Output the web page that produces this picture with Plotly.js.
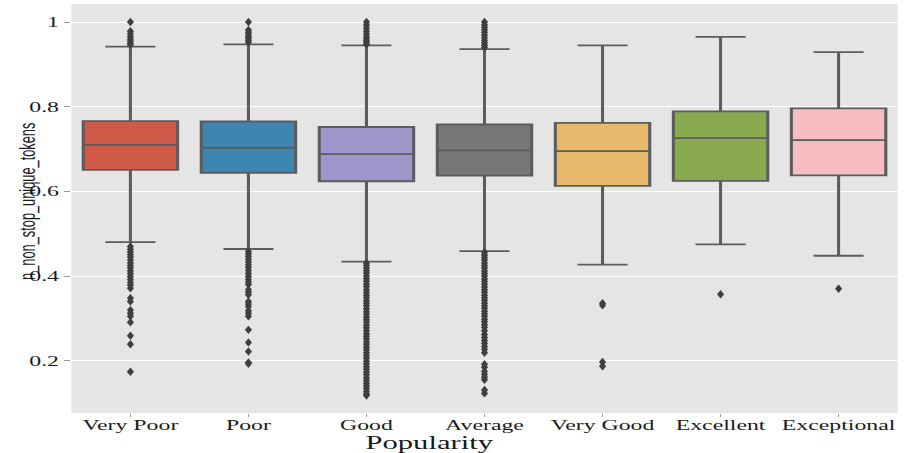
<!DOCTYPE html>
<html>
<head>
<meta charset="utf-8">
<script src="https://cdn.plot.ly/plotly-3.0.1.min.js"></script>
<style>
html,body{margin:0;padding:0;background:#fff;overflow:hidden;width:904px;height:453px;}
/* the reference picture is stretched horizontally; reproduce that stretch */
#chart{width:532px;height:453px;transform:scaleX(1.7);transform-origin:0 0;}
</style>
</head>
<body>
<div id="chart"></div>
<script>
// ---- data ----
const categories = ["Very Poor","Poor","Good","Average","Very Good","Excellent","Exceptional"];
const q1Values      = [0.651, 0.644, 0.624, 0.637, 0.613, 0.625, 0.638];
const medianValues  = [0.710, 0.703, 0.688, 0.697, 0.695, 0.726, 0.721];
const q3Values      = [0.766, 0.765, 0.752, 0.758, 0.762, 0.789, 0.796];
const lowerWhiskers = [0.480, 0.464, 0.434, 0.459, 0.427, 0.475, 0.448];
const upperWhiskers = [0.942, 0.947, 0.945, 0.936, 0.945, 0.965, 0.929];
const boxColors = ["#cf5a48","#3d85b3","#9d96cb","#777777","#e8b96c","#8aaa50","#f5bcc1"];

const outliersVeryPoor = [1.0, 0.978, 0.972, 0.966, 0.960, 0.955, 0.950, 0.946,
  0.470, 0.463, 0.457, 0.451, 0.445, 0.438, 0.431, 0.425, 0.419, 0.412, 0.406, 0.399, 0.392, 0.385, 0.379, 0.371,
  0.348, 0.340, 0.320, 0.312, 0.305, 0.291, 0.259, 0.239, 0.174];
const outliersPoor = [1.0, 0.981, 0.976, 0.971, 0.966, 0.962, 0.957, 0.952,
  0.458, 0.452, 0.446, 0.440, 0.433, 0.427, 0.420, 0.413, 0.406, 0.399, 0.392, 0.386, 0.380,
  0.368, 0.362, 0.356, 0.340, 0.334, 0.328, 0.318, 0.312, 0.305, 0.273, 0.243, 0.222, 0.196, 0.193];
const outliersGood = [1.0, 0.993, 0.985, 0.978, 0.972, 0.966, 0.961, 0.956, 0.951, 0.947,
  0.431, 0.425, 0.419, 0.413, 0.407, 0.400, 0.394, 0.388, 0.381, 0.375, 0.368, 0.362, 0.355, 0.349, 0.342,
  0.336, 0.330, 0.323, 0.316, 0.310, 0.303, 0.297, 0.291, 0.284, 0.278, 0.271, 0.264, 0.258, 0.252, 0.245,
  0.239, 0.232, 0.226, 0.219, 0.212, 0.206, 0.199, 0.193, 0.186, 0.180, 0.173, 0.167, 0.160, 0.154, 0.147,
  0.141, 0.135, 0.128, 0.122, 0.118];
const outliersAverage = [1.0, 0.993, 0.987, 0.981, 0.975, 0.969, 0.963, 0.957, 0.951, 0.945, 0.940,
  0.456, 0.450, 0.444, 0.438, 0.431, 0.425, 0.419, 0.412, 0.406, 0.400, 0.393, 0.387, 0.381, 0.374, 0.368,
  0.362, 0.355, 0.349, 0.343, 0.336, 0.330, 0.324, 0.317, 0.311, 0.305, 0.298, 0.292, 0.285, 0.279, 0.271,
  0.262, 0.255, 0.248, 0.241, 0.234, 0.227, 0.219, 0.192, 0.185, 0.175, 0.168, 0.161, 0.155, 0.131, 0.123];
const outliersVeryGood = [0.336, 0.331, 0.197, 0.187];
const outliersExcellent = [0.357];
const outliersExceptional = [0.370];
const outlierLists = [outliersVeryPoor, outliersPoor, outliersGood, outliersAverage,
  outliersVeryGood, outliersExcellent, outliersExceptional];

const yTickVals = [0.2, 0.4, 0.6, 0.8, 1];
const yTickText = ["0.2", "0.4", "0.6", "0.8", "1"];
const xTitle = "Popularity";
const yTitle = "n_non_stop_unique_tokens";

// ---- traces ----
const traces = categories.map((c, i) => ({
  type: "box",
  name: c,
  x: [c],
  q1: [q1Values[i]],
  median: [medianValues[i]],
  q3: [q3Values[i]],
  lowerfence: [lowerWhiskers[i]],
  upperfence: [upperWhiskers[i]],
  boxpoints: false,
  width: 0.8,
  whiskerwidth: 0.53,
  fillcolor: boxColors[i],
  line: {color: "#5c5c5c", width: 1.8},
  showlegend: false,
  hoverinfo: "skip"
}));

const outX = [], outY = [];
outlierLists.forEach((arr, i) => arr.forEach(v => { outX.push(categories[i]); outY.push(v); }));
traces.push({
  type: "scatter",
  mode: "markers",
  x: outX,
  y: outY,
  marker: {symbol: "diamond-tall", size: 6, color: "#3f3f3f", line: {width: 0}},
  showlegend: false,
  hoverinfo: "skip"
});

const serif = "Liberation Serif, Times New Roman, serif";
const layout = {
  width: 532, height: 453,
  margin: {l: 42.4, r: 3.5, t: 4, b: 40},
  paper_bgcolor: "#ffffff",
  plot_bgcolor: "#e5e5e5",
  showlegend: false,
  xaxis: {
    type: "category",
    categoryorder: "array",
    categoryarray: categories,
    range: [-0.5, 6.5],
    showgrid: false,
    zeroline: false,
    ticks: "outside", ticklen: 3, tickwidth: 1, tickcolor: "#999999",
    ticklabelstandoff: -4,
    tickfont: {family: serif, size: 14, color: "#1a1a1a"}
  },
  yaxis: {
    range: [0.0767, 1.0425],
    tickvals: yTickVals,
    ticktext: yTickText,
    showgrid: true, gridcolor: "#ffffff", gridwidth: 1,
    zeroline: false,
    ticks: "outside", ticklen: 3.5, tickwidth: 1, tickcolor: "#999999",
    tickfont: {family: serif, size: 14, color: "#1a1a1a"}
  },
  annotations: [
    {text: xTitle, xref: "paper", yref: "paper", x: 0.4335, y: -0.074,
     xanchor: "center", yanchor: "middle", showarrow: false,
     font: {family: serif, size: 18, color: "#1a1a1a"}},
    {text: yTitle, xref: "paper", yref: "paper", x: -0.054, y: 0.518,
     xanchor: "center", yanchor: "middle", textangle: -90, showarrow: false,
     font: {family: "Liberation Sans, Arial, sans-serif", size: 12.8, color: "#1a1a1a"}}
  ]
};

Plotly.newPlot("chart", traces, layout, {displayModeBar: false, staticPlot: true});
</script>
</body>
</html>
